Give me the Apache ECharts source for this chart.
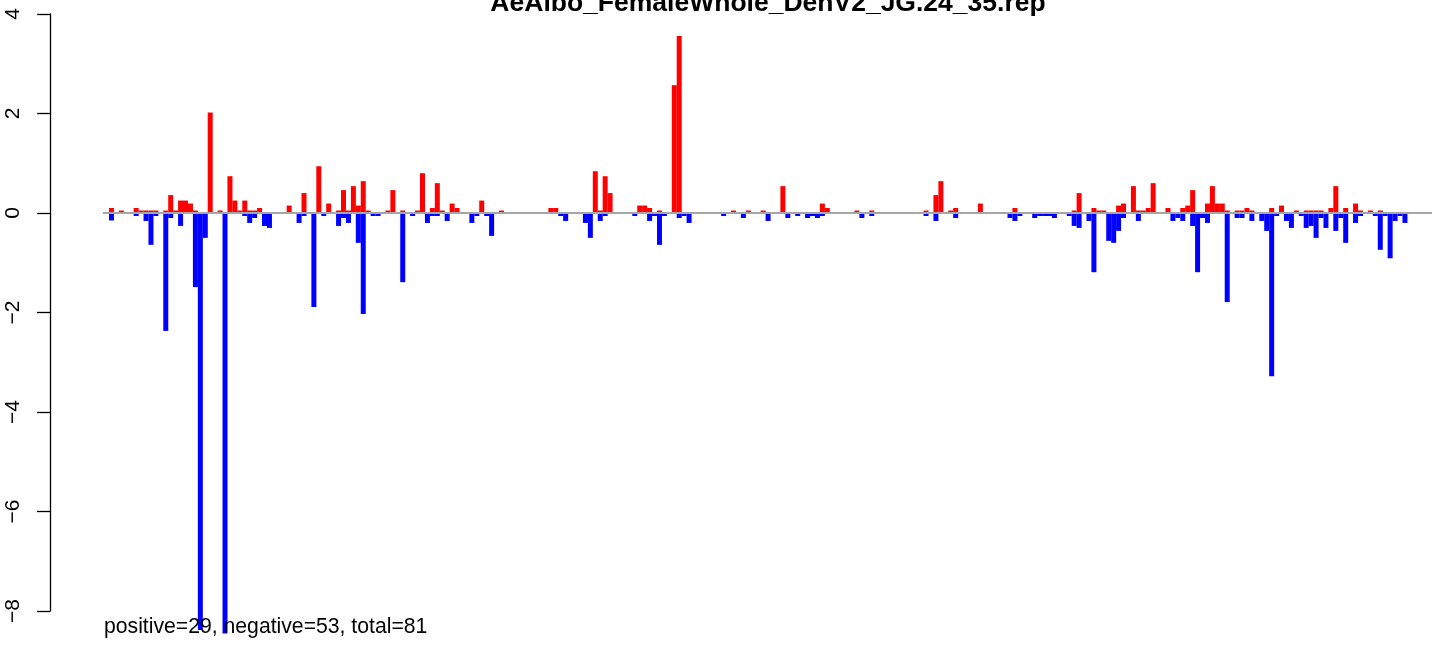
<!DOCTYPE html>
<html>
<head>
<meta charset="utf-8">
<script src="https://cdn.jsdelivr.net/npm/echarts@6/dist/echarts.min.js"></script>
<style>
  html, body { margin: 0; padding: 0; background: #ffffff; }
  #chart { width: 1444px; height: 649px; }
</style>
</head>
<body>
<div id="chart"></div>
<script>
// ---- data ----
const chartTitle = 'AeAlbo_FemaleWhole_DenV2_JG.24_35.rep';
const summaryText = 'positive=29, negative=53, total=81';
const yTicks = [-8, -6, -4, -2, 0, 2, 4];

// [slot index, value] pairs, red (positive) bars
const positiveBars = [
  [0,0.1],[2,0.05],[5,0.1],[6,0.05],[7,0.05],[8,0.05],[9,0.05],[11,0.05],[12,0.36],[13,0.05],
  [14,0.25],[15,0.25],[16,0.19],[17,0.05],[20,2.02],[22,0.05],[24,0.74],[25,0.25],[26,0.05],[27,0.25],
  [28,0.05],[29,0.05],[30,0.1],[36,0.15],[39,0.4],[42,0.94],[44,0.19],[46,0.05],[47,0.46],[48,0.05],
  [49,0.54],[50,0.15],[51,0.64],[52,0.05],[56,0.05],[57,0.46],[59,0.05],[62,0.05],[63,0.8],[65,0.1],
  [66,0.6],[67,0.05],[69,0.19],[70,0.1],[75,0.25],[79,0.05],[89,0.1],[90,0.1],[98,0.84],[99,0.05],
  [100,0.74],[101,0.4],[107,0.15],[108,0.15],[109,0.1],[111,0.05],[114,2.57],[115,3.56],[126,0.05],[129,0.05],
  [132,0.05],[136,0.54],[144,0.19],[145,0.1],[151,0.05],[154,0.05],[165,0.05],[167,0.36],[168,0.64],[170,0.05],
  [171,0.1],[176,0.19],[183,0.1],[195,0.05],[196,0.4],[199,0.1],[200,0.05],[201,0.05],[204,0.15],[205,0.19],
  [207,0.54],[208,0.05],[209,0.05],[210,0.1],[211,0.6],[214,0.1],[217,0.1],[218,0.15],[219,0.46],[222,0.19],
  [223,0.54],[224,0.19],[225,0.19],[226,0.05],[228,0.05],[229,0.05],[230,0.1],[231,0.05],[235,0.1],[237,0.15],
  [240,0.05],[242,0.05],[243,0.05],[244,0.05],[245,0.05],[247,0.1],[248,0.54],[250,0.1],[252,0.19],[253,0.05],
  [255,0.05],[257,0.05]
];

// [slot index, value] pairs, blue (negative) bars
const negativeBars = [
  [0,-0.15],[5,-0.06],[7,-0.16],[8,-0.64],[9,-0.06],[11,-2.37],[12,-0.1],[14,-0.26],[17,-1.49],[18,-8.38],
  [19,-0.5],[23,-8.45],[27,-0.06],[28,-0.2],[29,-0.1],[31,-0.26],[32,-0.3],[38,-0.2],[39,-0.06],[41,-1.89],
  [43,-0.06],[46,-0.26],[47,-0.1],[48,-0.2],[50,-0.6],[51,-2.03],[53,-0.06],[54,-0.06],[59,-1.39],[61,-0.06],
  [64,-0.2],[65,-0.06],[66,-0.06],[68,-0.16],[73,-0.2],[74,-0.06],[76,-0.06],[77,-0.46],[91,-0.06],[92,-0.16],
  [96,-0.2],[97,-0.5],[99,-0.16],[100,-0.06],[106,-0.06],[109,-0.16],[110,-0.06],[111,-0.64],[112,-0.06],[115,-0.1],
  [116,-0.06],[117,-0.2],[124,-0.06],[128,-0.1],[133,-0.16],[137,-0.1],[139,-0.06],[141,-0.1],[142,-0.06],[143,-0.1],
  [144,-0.06],[152,-0.1],[154,-0.06],[165,-0.06],[167,-0.16],[171,-0.1],[182,-0.1],[183,-0.16],[184,-0.06],[187,-0.1],
  [188,-0.06],[189,-0.06],[190,-0.06],[191,-0.1],[194,-0.06],[195,-0.26],[196,-0.3],[198,-0.16],[199,-1.19],[202,-0.56],
  [203,-0.6],[204,-0.36],[205,-0.1],[208,-0.16],[215,-0.16],[216,-0.1],[217,-0.16],[219,-0.26],[220,-1.19],[221,-0.1],
  [222,-0.2],[226,-1.79],[228,-0.1],[229,-0.1],[231,-0.16],[233,-0.16],[234,-0.36],[235,-3.28],[236,-0.06],[238,-0.16],
  [239,-0.3],[241,-0.06],[242,-0.3],[243,-0.26],[244,-0.5],[245,-0.1],[246,-0.3],[248,-0.36],[249,-0.1],[250,-0.6],
  [252,-0.2],[253,-0.06],[256,-0.06],[257,-0.74],[258,-0.06],[259,-0.91],[260,-0.16],[261,-0.06],[262,-0.2]
];

// ---- chart ----
const FONT = '"Liberation Sans", Arial, Helvetica, sans-serif';
const chart = echarts.init(document.getElementById('chart'), null, { renderer: 'canvas' });

chart.setOption({
  animation: false,
  backgroundColor: '#ffffff',
  title: [
    {
      text: chartTitle,
      left: 768, top: -10, padding: 0, textAlign: 'center',
      textStyle: { fontFamily: FONT, fontSize: 26.5, fontWeight: 'bold', color: '#000000' }
    },
    {
      text: summaryText,
      left: 104, top: 617, padding: 0,
      textStyle: { fontFamily: FONT, fontSize: 21.2, fontWeight: 'normal', color: '#000000' }
    }
  ],
  grid: { left: 103, right: 12, top: 14, bottom: 38, containLabel: false },
  xAxis: {
    type: 'value',
    min: -1.716, max: 267.48,
    show: false
  },
  yAxis: {
    type: 'value',
    min: yTicks[0], max: yTicks[yTicks.length - 1], interval: 2,
    offset: 53,
    splitLine: { show: false },
    axisLine: { show: true, onZero: false, lineStyle: { color: '#000000', width: 1.3 } },
    axisTick: { show: true, length: 13, lineStyle: { color: '#000000', width: 1.3 } },
    axisLabel: {
      rotate: 90, margin: 26, color: '#000000',
      fontFamily: FONT, fontSize: 21,
      formatter: v => (v < 0 ? '\u2212' + Math.abs(v) : String(v))
    }
  },
  series: [
    {
      type: 'bar',
      data: positiveBars,
      barWidth: 5,
      barGap: '-100%',
      clip: false,
      itemStyle: { color: '#ff0000' },
      silent: true
    },
    {
      type: 'bar',
      data: negativeBars,
      barWidth: 5,
      barGap: '-100%',
      clip: false,
      itemStyle: { color: '#0000ff' },
      silent: true,
      markLine: {
        silent: true,
        symbol: ['none', 'none'],
        label: { show: false },
        lineStyle: { color: '#a6a6a6', width: 2, type: 'solid' },
        data: [{ yAxis: 0 }]
      }
    }
  ]
});
</script>
</body>
</html>
